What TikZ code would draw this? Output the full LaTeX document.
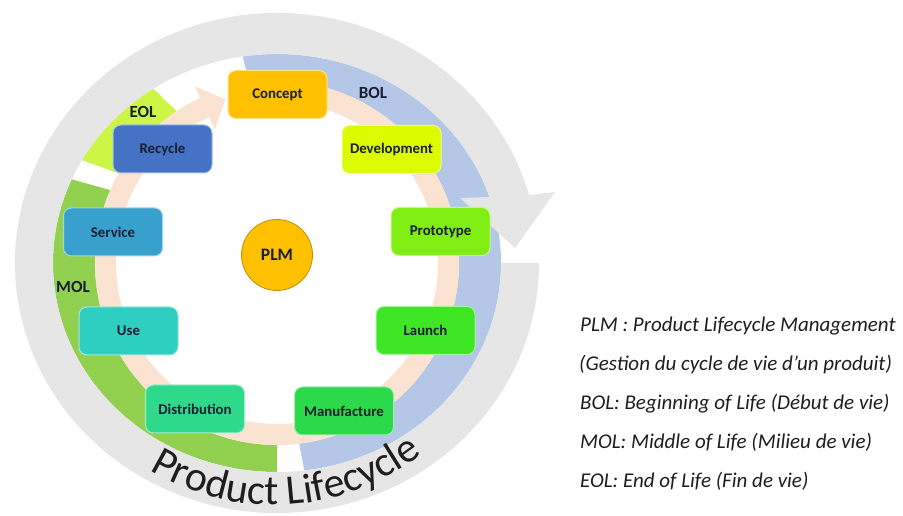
\documentclass[tikz,border=0pt]{standalone}
\usepackage{fontspec}
\setmainfont{Carlito}
\usetikzlibrary{decorations.text}
\definecolor{ringgray}{HTML}{E6E6E6}
\definecolor{bolc}{HTML}{B4C7E7}
\definecolor{molc}{HTML}{92D050}
\definecolor{eolc}{HTML}{CCF545}
\definecolor{peach}{HTML}{FBE3D2}
\definecolor{cconcept}{HTML}{FFC000}
\definecolor{cdev}{HTML}{DCFA00}
\definecolor{cproto}{HTML}{80EE12}
\definecolor{claunch}{HTML}{3EE626}
\definecolor{cmanuf}{HTML}{2BD94A}
\definecolor{cdistr}{HTML}{2ED98C}
\definecolor{cuse}{HTML}{2ECFC0}
\definecolor{cservice}{HTML}{38A0CD}
\definecolor{crecycle}{HTML}{4472C4}
\definecolor{txtc}{HTML}{191E32}
\definecolor{legc}{HTML}{1E1E1E}
\tikzset{
  stage/.style={rounded corners=8pt, minimum width=99pt, minimum height=48pt,
    fill=#1, draw=#1!45!white, line width=1pt, inner sep=0pt,
    font=\bfseries\fontsize{14.8}{16}\selectfont, text=txtc},
  phase/.style={font=\bfseries\fontsize{17}{19}\selectfont, text=txtc, inner sep=0pt},
  legend/.style={anchor=base west, inner sep=0pt, text=legc,
    font=\itshape\fontsize{21}{24}\selectfont}
}
\begin{document}
\begin{tikzpicture}[x=1pt,y=1pt]
\useasboundingbox (0,0) rectangle (903,516);
\fill[white] (0,0) rectangle (903,516);
\begin{scope}[shift={(277,253)}]
  % phase bands
  \fill[bolc] (-83:224pt and 209pt) arc[start angle=-83,end angle=98.8,x radius=224pt,y radius=209pt]
     -- (98.8:182pt) arc[start angle=98.8,end angle=-83,radius=182pt] -- cycle;
  \fill[molc] (156.4:224pt and 209pt) arc[start angle=156.4,end angle=270,x radius=224pt,y radius=209pt]
     -- (270:182pt) arc[start angle=270,end angle=156.4,radius=182pt] -- cycle;
  \fill[eolc] (123.5:224pt and 209pt) arc[start angle=123.5,end angle=150.5,x radius=224pt,y radius=209pt]
     -- (150.5:182pt) arc[start angle=150.5,end angle=123.5,radius=182pt] -- cycle;
  % gray circular arrow
  \fill[ringgray] (15.8:262pt and 250pt) arc[start angle=15.8,end angle=360,x radius=262pt,y radius=250pt]
     -- (0:224pt and 209pt) arc[start angle=360,end angle=18.4,x radius=224pt,y radius=209pt]
     -- (183,65) -- (238,15) -- (278,71) -- cycle;
  % peach circular arrow
  \fill[peach] (115:182pt) arc[start angle=115,end angle=455,radius=182pt]
     -- (455:161pt) arc[start angle=455,end angle=115,radius=161pt]
     -- (115:147pt) -- (107.5:171.5pt) -- (115:195pt) -- cycle;
\end{scope}
% title along the arc
\begin{scope}[shift={(274,250)}]
  \path[decorate, decoration={text along path, text align=center, text color=legc,
      text={|\fontsize{42}{42}\selectfont|Product Lifecycle}}]
      (222:239pt) arc[start angle=222,end angle=325,radius=239pt];
\end{scope}
% stages
\node[stage=cconcept] (concept) at (277.5,421.5) {Concept};
\node[stage=cdev] (dev) at (391.5,366.5) {Development};
\node[stage=cproto] (proto) at (440.5,284.5) {Prototype};
\node[stage=claunch] (launch) at (425.5,185.5) {Launch};
\node[stage=cmanuf] (manuf) at (344,105) {Manufacture};
\node[stage=cdistr] (distr) at (195,107) {Distribution};
\node[stage=cuse] (use) at (128.5,185) {Use};
\node[stage=cservice] (service) at (113,284) {Service};
\node[stage=crecycle] (recycle) at (162.5,367) {Recycle};
% center
\node[circle, fill=cconcept, draw=cconcept!75!black, line width=0.8pt, minimum size=71pt,
  inner sep=0pt, font=\bfseries\fontsize{17.5}{19}\selectfont, text=txtc] (plm) at (277,261) {PLM};
% phase labels
\node[phase] (eol) at (143,404) {EOL};
\node[phase] (bol) at (373,423) {BOL};
\node[phase] (mol) at (73,229) {MOL};
% legend
\node[legend] (leg1) at (580,184) {PLM : Product Lifecycle Management};
\node[legend] (leg2) at (579,145) {(Gestion du cycle de vie d’un produit)};
\node[legend] (leg3) at (580,106) {BOL: Beginning of Life (Début de vie)};
\node[legend] (leg4) at (580,67) {MOL: Middle of Life (Milieu de vie)};
\node[legend] (leg5) at (580,28) {EOL: End of Life (Fin de vie)};
\end{tikzpicture}
\end{document}
